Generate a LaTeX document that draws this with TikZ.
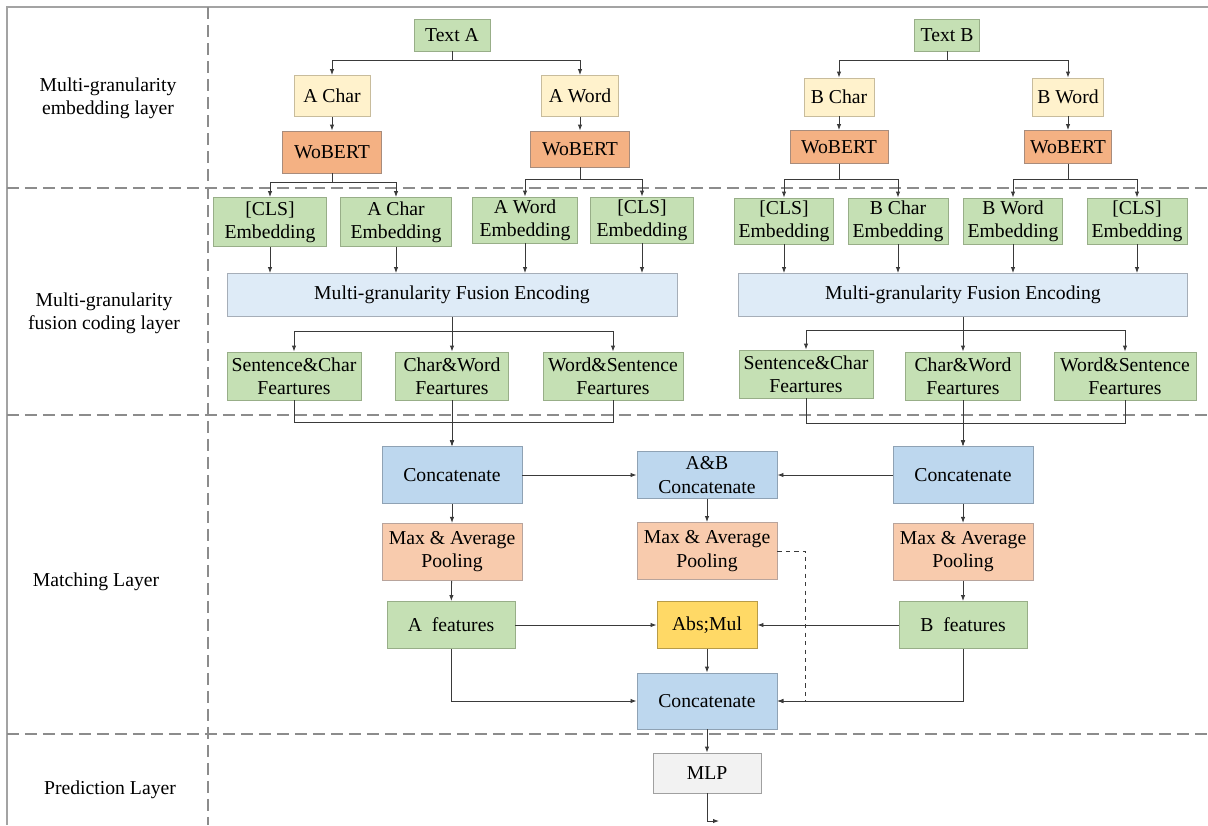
\documentclass[tikz,border=0pt]{standalone}
\usepackage{fontspec}
\setmainfont{Liberation Serif}
\usepackage{xcolor}
\usetikzlibrary{arrows.meta,positioning,calc}
\definecolor{mgreen}{HTML}{C5E0B4}
\definecolor{mgreenln}{HTML}{98AE88}
\definecolor{myellow}{HTML}{FFF2CC}
\definecolor{myellowln}{HTML}{C8BC9C}
\definecolor{morange}{HTML}{F4B183}
\definecolor{morangeln}{HTML}{A88C7C}
\definecolor{mlblue}{HTML}{DEEBF7}
\definecolor{mlblueln}{HTML}{A6AEB8}
\definecolor{mblue}{HTML}{BDD7EE}
\definecolor{mblueln}{HTML}{8FA2B4}
\definecolor{mpeach}{HTML}{F8CBAD}
\definecolor{mpeachln}{HTML}{B8A49C}
\definecolor{mgold}{HTML}{FFD966}
\definecolor{mgoldln}{HTML}{B89C48}
\definecolor{mlgrey}{HTML}{F2F2F2}
\definecolor{mlgreyln}{HTML}{A0A0A0}
\definecolor{mink}{HTML}{3A3A3A}
\definecolor{msep}{HTML}{8C8C8C}
\tikzset{
  box/.style={draw,line width=0.6pt,inner sep=1pt,align=center,
    font=\fontsize{14}{16.5}\selectfont},
  grn/.style={box,fill=mgreen,draw=mgreenln},
  ylw/.style={box,fill=myellow,draw=myellowln},
  wob/.style={box,fill=morange,draw=morangeln},
  fus/.style={box,fill=mlblue,draw=mlblueln},
  cat/.style={box,fill=mblue,draw=mblueln},
  pool/.style={box,fill=mpeach,draw=mpeachln},
  absm/.style={box,fill=mgold,draw=mgoldln},
  mlpbox/.style={box,fill=mlgrey,draw=mlgreyln},
  lyr/.style={align=center,font=\fontsize{14}{16.5}\selectfont},
  arr/.style={-{Latex[length=1.5mm,width=1.1mm]},line width=0.6pt,color=mink},
  sep/.style={line width=1pt,color=msep,dash pattern=on 8.5pt off 4.3pt},
  frame/.style={line width=0.8pt,color=msep!80},
}
\begin{document}
\begin{tikzpicture}[x=0.025cm,y=-0.025cm]
\useasboundingbox (0,0) rectangle (1208,825);
% frame and layer separators
\draw[frame] (7,825) -- (7,7) -- (1208,7);
\draw[sep] (208,7) -- (208,825);
\foreach \yy in {188,415,734} \draw[sep] (7,\yy) -- (1208,\yy);
\node[lyr] (l1) at (108,98) {Multi-granularity\\embedding layer};
\node[lyr] (l2) at (104,313) {Multi-granularity\\fusion coding layer};
\node[lyr] (l3) at (96,582) {Matching Layer};
\node[lyr] (l4) at (110,790) {Prediction Layer};

% embedding layer
\node[grn,minimum width=1.9cm,minimum height=0.8cm] (ta) at (452,35) {Text A};
\node[ylw,minimum width=1.9cm,minimum height=1.025cm] (ac) at (332,96) {A Char};
\node[ylw,minimum width=1.925cm,minimum height=1.025cm] (aw) at (580,96) {A Word};
\node[wob,minimum width=2.475cm,minimum height=1.05cm] (wa1) at (332,152) {WoBERT};
\node[wob,minimum width=2.475cm,minimum height=0.9cm] (wa2) at (580,149) {WoBERT};
\node[grn,minimum width=1.625cm,minimum height=0.8cm] (tb) at (947,35) {Text B};
\node[ylw,minimum width=1.75cm,minimum height=0.95cm] (bc) at (839,97) {B Char};
\node[ylw,minimum width=1.775cm,minimum height=0.95cm] (bw) at (1068,97) {B Word};
\node[wob,minimum width=2.45cm,minimum height=0.825cm] (wb1) at (839,147) {WoBERT};
\node[wob,minimum width=2.175cm,minimum height=0.825cm] (wb2) at (1068,147) {WoBERT};
\draw[arr] (ta.south) -- ++(0,9) -| (ac.north);
\draw[arr] (ta.south) -- ++(0,9) -| (aw.north);
\draw[arr] (tb.south) -- ++(0,9) -| (bc.north);
\draw[arr] (tb.south) -- ++(0,9) -| (bw.north);
\draw[arr] (ac) -- (wa1); \draw[arr] (aw) -- (wa2);
\draw[arr] (bc) -- (wb1); \draw[arr] (bw) -- (wb2);

% fusion coding layer
\node[grn,minimum width=2.825cm,minimum height=1.225cm] (clsa1) at (270,222) {[CLS]\\Embedding};
\node[grn,minimum width=2.775cm,minimum height=1.225cm] (ace) at (396,222) {A Char\\Embedding};
\node[grn,minimum width=2.625cm,minimum height=1.15cm] (awe) at (525,220) {A Word\\Embedding};
\node[grn,minimum width=2.575cm,minimum height=1.15cm] (clsa2) at (642,220) {[CLS]\\Embedding};
\node[grn,minimum width=2.475cm,minimum height=1.15cm] (clsb1) at (784,221) {[CLS]\\Embedding};
\node[grn,minimum width=2.5cm,minimum height=1.15cm] (bce) at (898,221) {B Char\\Embedding};
\node[grn,minimum width=2.475cm,minimum height=1.15cm] (bwe) at (1013,221) {B Word\\Embedding};
\node[grn,minimum width=2.5cm,minimum height=1.15cm] (clsb2) at (1137,221) {[CLS]\\Embedding};
\draw[arr] (wa1.south) -- ++(0,9) -| (clsa1.north);
\draw[arr] (wa1.south) -- ++(0,9) -| (ace.north);
\draw[arr] (wa2.south) -- ++(0,12) -| (awe.north);
\draw[arr] (wa2.south) -- ++(0,12) -| (clsa2.north);
\draw[arr] (wb1.south) -- ++(0,15) -| (clsb1.north);
\draw[arr] (wb1.south) -- ++(0,15) -| (bce.north);
\draw[arr] (wb2.south) -- ++(0,15) -| (bwe.north);
\draw[arr] (wb2.south) -- ++(0,15) -| (clsb2.north);
\node[fus,minimum width=11.25cm,minimum height=1.075cm] (fa) at (452,295) {Multi-granularity Fusion Encoding};
\node[fus,minimum width=11.225cm,minimum height=1.075cm] (fb) at (963,295) {Multi-granularity Fusion Encoding};
\foreach \n in {clsa1,ace,awe,clsa2} \draw[arr] (\n) -- (\n |- fa.north);
\foreach \n in {clsb1,bce,bwe,clsb2} \draw[arr] (\n) -- (\n |- fb.north);
\node[grn,minimum width=3.35cm,minimum height=1.2cm] (sca) at (294,376) {Sentence\&Char\\Feartures};
\node[grn,minimum width=2.825cm,minimum height=1.2cm] (cwa) at (452,376) {Char\&Word\\Feartures};
\node[grn,minimum width=3.5cm,minimum height=1.2cm] (wsa) at (613,376) {Word\&Sentence\\Feartures};
\node[grn,minimum width=3.35cm,minimum height=1.2cm] (scb) at (806,374) {Sentence\&Char\\Feartures};
\node[grn,minimum width=2.875cm,minimum height=1.2cm] (cwb) at (963,376) {Char\&Word\\Feartures};
\node[grn,minimum width=3.55cm,minimum height=1.2cm] (wsb) at (1125,376) {Word\&Sentence\\Feartures};
\draw[arr] (fa.south) -- ++(0,14) -| (sca.north);
\draw[arr] (fa.south) -- (cwa.north);
\draw[arr] (fa.south) -- ++(0,14) -| (wsa.north);
\draw[arr] (fb.south) -- ++(0,13) -| (scb.north);
\draw[arr] (fb.south) -- (cwb.north);
\draw[arr] (fb.south) -- ++(0,13) -| (wsb.north);

% matching layer
\node[cat,minimum width=3.5cm,minimum height=1.425cm] (cca) at (452,475) {Concatenate};
\node[cat,minimum width=3.5cm,minimum height=1.175cm] (abc) at (707,475) {A\&B\\Concatenate};
\node[cat,minimum width=3.5cm,minimum height=1.425cm] (ccb) at (963,475) {Concatenate};
\node[pool,minimum width=3.5cm,minimum height=1.425cm,below=0.475cm of cca] (pla) {Max \& Average\\Pooling};
\node[pool,minimum width=3.5cm,minimum height=1.425cm] (plm) at (707,551) {Max \& Average\\Pooling};
\node[pool,minimum width=3.5cm,minimum height=1.425cm,below=0.475cm of ccb] (plb) {Max \& Average\\Pooling};
\node[grn,minimum width=3.2cm,minimum height=1.175cm] (afe) at (451,625) {A\ \ features};
\node[absm,minimum width=2.5cm,minimum height=1.175cm] (abs) at (707,625) {Abs;Mul};
\node[grn,minimum width=3.2cm,minimum height=1.175cm] (bfe) at (963,625) {B\ \ features};
\node[cat,minimum width=3.5cm,minimum height=1.4cm] (ccm) at (707,701) {Concatenate};
\draw[arr] (sca.south) -- ++(0,22) -| (cca.north);
\draw[arr] (cwa.south) -- (cca.north);
\draw[arr] (wsa.south) -- ++(0,22) -| (cca.north);
\draw[arr] (scb.south) -- ++(0,25) -| (ccb.north);
\draw[arr] (cwb.south) -- (ccb.north);
\draw[arr] (wsb.south) -- ++(0,23) -| (ccb.north);
\draw[arr] (cca) -- (abc); \draw[arr] (ccb) -- (abc);
\draw[arr] (cca) -- (pla); \draw[arr] (pla) -- (afe);
\draw[arr] (abc) -- (plm);
\draw[arr] (ccb) -- (plb); \draw[arr] (plb) -- (bfe);
\draw[arr] (afe) -- (abs); \draw[arr] (bfe) -- (abs);
\draw[arr] (abs) -- (ccm);
\draw[arr] (afe.south) |- (ccm.west);
\draw[arr] (bfe.south) |- (ccm.east);
\draw[arr,dashed] (plm.east) -- ++(28,0) |- (ccm.east);

% prediction layer
\node[mlpbox,minimum width=2.7cm,minimum height=1cm] (mlp) at (707,773) {MLP};
\coordinate (out) at (719,821);
\draw[arr] (ccm) -- (mlp);
\draw[arr] (mlp.south) |- (out);
\end{tikzpicture}
\end{document}
